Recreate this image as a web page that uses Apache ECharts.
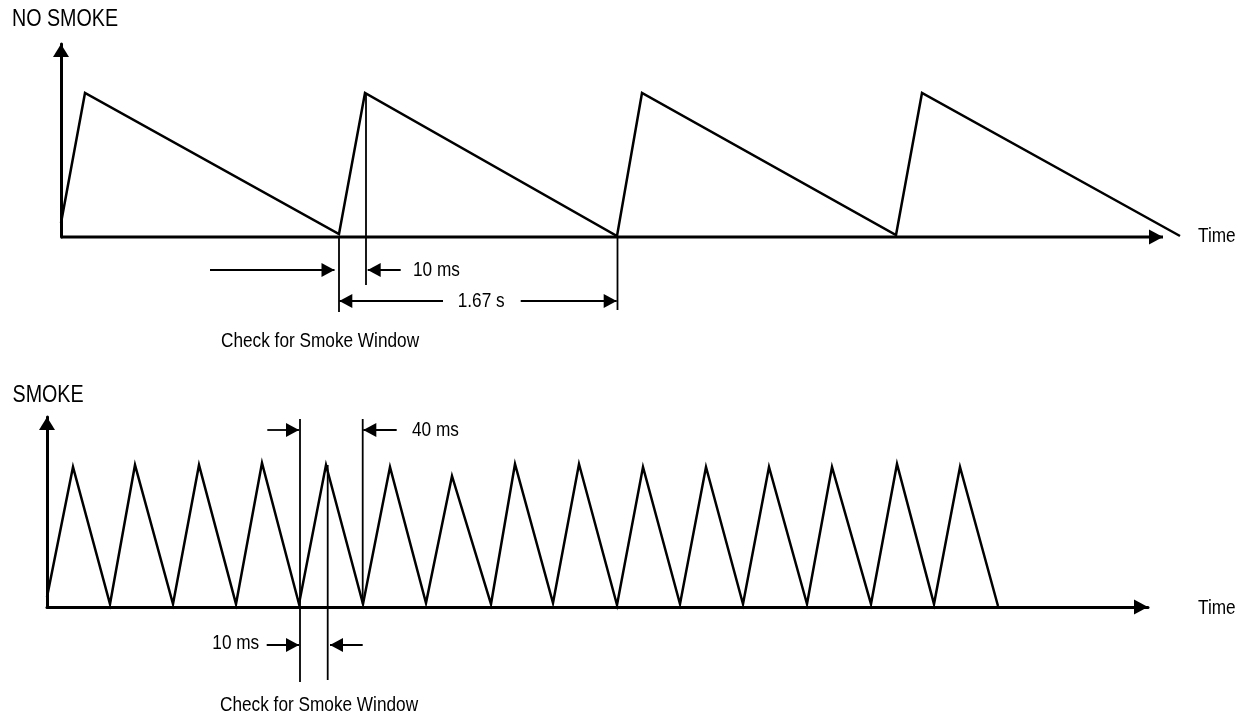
<!DOCTYPE html>
<html>
<head>
<meta charset="utf-8">
<script src="https://cdn.jsdelivr.net/npm/echarts@6/dist/echarts.min.js"></script>
<style>html,body{margin:0;padding:0;background:#fff;}#c{width:1243px;height:719px;}</style>
</head>
<body>
<div id="c"></div>
<script>
// ---------- DATA (arbitrary time/amplitude units) ----------
// NO SMOKE waveform
const noSmokeT = [0, 24, 278, 304, 556, 581, 835, 861, 1119];
const noSmokeV = [14, 144, 3, 144, 1, 144, 2, 144, 1];
// SMOKE waveform
const smokeT = [0, 26, 63, 88, 126, 152, 189, 215, 252, 279, 316, 343, 379, 405, 444, 468, 506, 532, 570, 596, 633, 659, 696, 722, 760, 785, 824, 850, 887, 913, 951];
const smokeV = [10, 140, 3, 142, 3, 142, 3, 144, 3, 142, 3, 140, 4, 131, 3, 143, 4, 143, 2, 140, 3, 140, 3, 140, 3, 140, 3, 143, 3, 140, 1];

// vertical marker lines: [t, vFrom, vTo]
const topMarkers = [[278, 0, -75], [305, 144, -48], [556.5, 0, -73]];
const botMarkers = [[253, 188, -75], [280.7, 142, -73], [315.7, 188, 3]];
// horizontal arrows: [v, tFrom, tTip]
const topArrows = [[-33, 149, 273.5], [-33, 339.7, 306.7], [-64, 382, 278.3], [-64, 459.7, 555.7]];
const botArrows = [[177, 220.3, 252], [177, 349.7, 316.3], [-38, 219.7, 252], [-38, 315.7, 283]];
// annotation labels: [text, t, v]
const topLabels = [['10 ms', 352, -33], ['1.67 s', 396.7, -64], ['Check for Smoke Window', 160, -104]];
const botLabels = [['40 ms', 365, 177], ['10 ms', 165.3, -36], ['Check for Smoke Window', 173, -98]];
// axis extents
const topRange = {tAxisEnd: 1102, tMax: 1124, vMax: 193};
const botRange = {tMax: 1101, vMax: 190};
const titles = ['NO SMOKE', 'SMOKE'];
const axisName = 'Time';

// ---------- font selection ----------
function hasFont(name) {
  const ctx = document.createElement('canvas').getContext('2d');
  const s = 'Check for Smoke Window 10 ms';
  ctx.font = '40px monospace';
  const a = ctx.measureText(s).width;
  ctx.font = '40px "' + name + '", monospace';
  const b = ctx.measureText(s).width;
  return Math.abs(a - b) > 0.5;
}
const narrow = hasFont('Liberation Sans Narrow');
const FONT = narrow ? '"Liberation Sans Narrow"' : '"Liberation Sans", Arial, sans-serif';
const SX = narrow ? 1 : 0.82;

const chart = echarts.init(document.getElementById('c'), null, {renderer: 'canvas'});

function axisCfg(grid, max, isX, showLine) {
  return {
    type: 'value', gridIndex: grid, min: 0, max: max,
    axisLine: {show: showLine, onZero: false,
      symbol: ['none', 'triangle'],
      symbolSize: isX ? [15, 14] : [16, 13],
      symbolOffset: [0, isX ? -7 : -6.5],
      lineStyle: {color: '#000', width: 3}},
    axisTick: {show: false}, axisLabel: {show: false}, splitLine: {show: false}
  };
}

const series = [];
function wave(grid, T, V) {
  series.push({
    type: 'line', xAxisIndex: grid, yAxisIndex: grid, clip: false, symbol: 'none',
    data: T.map((t, i) => [t, V[i]]),
    lineStyle: {color: '#000', width: 2.5, join: 'miter'}, silent: true
  });
}
function markers(grid, list) {
  list.forEach(m => series.push({
    type: 'line', xAxisIndex: grid, yAxisIndex: grid, clip: false, symbol: 'none',
    data: [[m[0], m[1]], [m[0], m[2]]],
    lineStyle: {color: '#000', width: 1.8}, silent: true
  }));
}
function arrow(grid, v, from, tip, width, head) {
  const right = tip > from;
  series.push({
    type: 'line', xAxisIndex: grid, yAxisIndex: grid, clip: false, symbol: 'none',
    showAllSymbol: true,
    data: [[from, v], {value: [tip, v], symbol: 'triangle', symbolSize: head,
      symbolRotate: right ? -90 : 90, symbolOffset: [right ? -head[1] / 2 : head[1] / 2, 0],
      itemStyle: {color: '#000', borderWidth: 0}}],
    itemStyle: {color: '#000'},
    lineStyle: {color: '#000', width: width}, silent: true, z: 3
  });
}
function arrows(grid, list) {
  list.forEach(a => arrow(grid, a[0], a[1], a[2], 1.8, [14, 13]));
}
wave(0, noSmokeT, noSmokeV);
wave(1, smokeT, smokeV);
markers(0, topMarkers);
markers(1, botMarkers);
arrows(0, topArrows);
arrows(1, botArrows);
// top time axis (drawn as an arrow so the waveform may run past its tip)
arrow(0, 0, 0, topRange.tAxisEnd, 3, [15, 14]);

chart.setOption({
  animation: false,
  backgroundColor: '#fff',
  grid: [
    {left: 61, right: 58, top: 44, bottom: 482},
    {left: 47, right: 95, top: 417, bottom: 112}
  ],
  xAxis: [axisCfg(0, topRange.tMax, true, false), axisCfg(1, botRange.tMax, true, true)],
  yAxis: [axisCfg(0, topRange.vMax, false, true), axisCfg(1, botRange.vMax, false, true)],
  series: series
});

function txt(text, x, y, size) {
  return {type: 'text', x: x, y: y, scaleX: SX, silent: true,
    style: {text: text, fill: '#000', fontSize: size, fontFamily: FONT,
      align: 'left', verticalAlign: 'middle', textAlign: 'left', textVerticalAlign: 'middle'}};
}
const g = [];
g.push(txt(titles[0], 12, 19, 24));
g.push(txt(titles[1], 12.5, 395, 24));
g.push(txt(axisName, 1198, 236, 21));
g.push(txt(axisName, 1198, 608, 21));
topLabels.forEach(l => { const p = chart.convertToPixel({gridIndex: 0}, [l[1], l[2]]); g.push(txt(l[0], p[0], p[1], 21)); });
botLabels.forEach(l => { const p = chart.convertToPixel({gridIndex: 1}, [l[1], l[2]]); g.push(txt(l[0], p[0], p[1], 21)); });
chart.setOption({graphic: g});
</script>
</body>
</html>
